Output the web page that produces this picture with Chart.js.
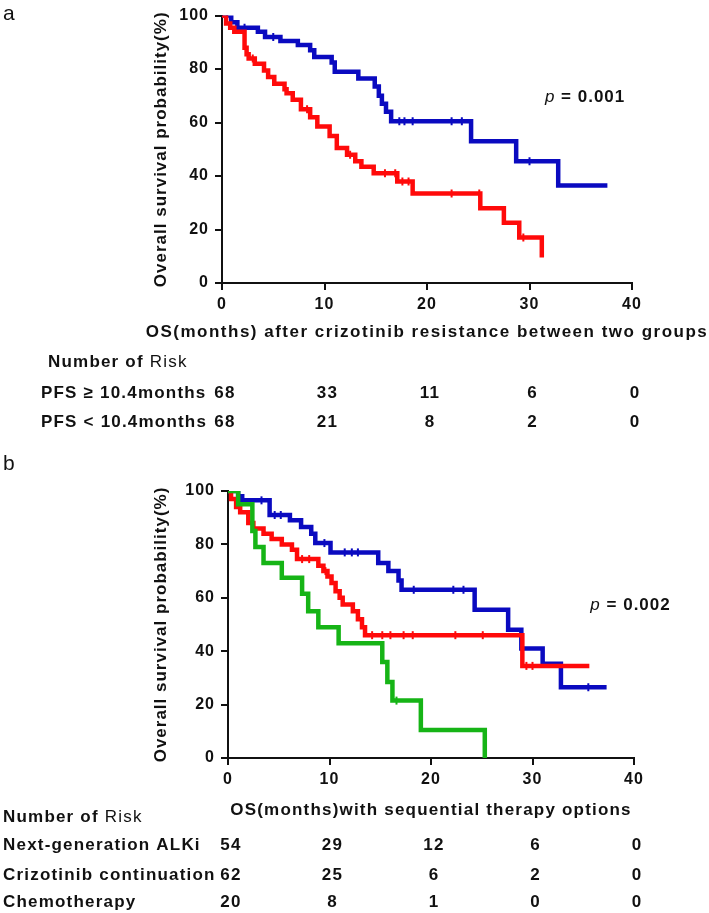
<!DOCTYPE html>
<html>
<head>
<meta charset="utf-8">
<title>Overall survival after crizotinib resistance</title>
<script src="https://cdn.jsdelivr.net/npm/chart.js@4.4.0/dist/chart.umd.min.js"></script>
<style>
  html, body { margin: 0; padding: 0; background: #fff; }
  #page { position: relative; width: 709px; height: 913px; overflow: hidden; }
  .panel { position: absolute; left: 0; width: 709px; }
  #panelA { top: 0; height: 440px; }
  #panelB { top: 440px; height: 473px; }
</style>
</head>
<body>
<div id="page">
  <div class="panel" id="panelA"><canvas id="chartA" width="709" height="440"></canvas></div>
  <div class="panel" id="panelB"><canvas id="chartB" width="709" height="473"></canvas></div>
</div>
<script>
// Kaplan-Meier curves, values (months, survival %)
const riskTimes = [0, 10, 20, 30, 40];

// Panel a: PFS >= 10.4 months vs PFS < 10.4 months
const aHighTimes = [0, 0.9, 1.5, 3.5, 4.2, 5.7, 7.4, 8.6, 9.0, 10.7, 11.0, 13.3, 14.9, 15.3, 15.6, 16.0, 16.5, 24.3, 28.7, 32.8, 37.6];
const aHighSurv = [100, 97.5, 95.5, 94, 92, 90.5, 89, 87, 84.5, 82.5, 79, 76.5, 73.5, 70, 67, 64, 60.5, 53, 45.5, 36.5, 36.5];
const aHighCensor = [0.5, 2.2, 5.0, 17.3, 17.8, 18.6, 22.4, 23.4, 30.0];

const aLowTimes = [0, 0.4, 0.8, 1.2, 2.2, 2.4, 2.6, 3.2, 4.1, 4.5, 5.1, 6.1, 6.3, 6.9, 7.7, 8.6, 9.3, 10.5, 11.2, 12.2, 13.0, 13.6, 14.8, 17.1, 18.6, 25.2, 27.5, 29.0, 31.2];
const aLowSurv = [100, 97, 95.5, 94, 88, 85.5, 84, 82, 79.5, 77, 74.5, 72.5, 71, 68.5, 65, 62, 58.5, 55, 50.5, 48, 45.5, 43.5, 41, 38, 33.5, 28, 22.5, 17, 9.5];
const aLowCensor = [3.0, 8.3, 12.5, 15.9, 16.9, 17.6, 18.2, 22.4, 25.1, 29.4];

const aRiskHigh = [68, 33, 11, 6, 0];
const aRiskLow = [68, 21, 8, 2, 0];

// Panel b: sequential therapy options
const bAlkTimes = [0, 1.0, 1.4, 4.1, 6.1, 7.2, 8.2, 8.6, 10.1, 14.8, 15.8, 16.8, 17.1, 24.3, 27.6, 28.9, 31.0, 32.8, 37.3];
const bAlkSurv = [100, 98, 96.5, 91, 89, 86.5, 84, 80.5, 77, 73, 70, 66.5, 63, 55.5, 48, 41, 35.3, 26.5, 26.5];
const bAlkCensor = [3.3, 4.6, 5.2, 9.5, 11.5, 12.2, 12.8, 18.3, 22.2, 23.2, 35.5];

const bCrizTimes = [0, 0.3, 0.8, 1.2, 2.0, 2.5, 3.5, 4.3, 5.3, 6.3, 6.8, 8.9, 9.4, 9.8, 10.2, 10.6, 11.0, 11.3, 12.3, 12.8, 13.2, 13.5, 29.0, 35.6];
const bCrizSurv = [100, 97, 94, 92, 88, 86, 84, 82, 80, 78, 74.5, 72, 70, 68, 65.5, 62.5, 60, 57.5, 55, 52, 49, 46, 34.5, 34.5];
const bCrizCensor = [7.3, 8.0, 9.6, 14.2, 15.2, 16.0, 17.3, 18.2, 22.4, 25.1, 29.4, 30.0];

const bChemoTimes = [0, 1.0, 2.4, 2.7, 3.5, 5.3, 7.3, 7.9, 8.9, 10.9, 15.2, 15.7, 16.2, 19.0, 25.3];
const bChemoSurv = [100, 95, 85, 79, 73, 67.5, 61.5, 55, 49, 43, 36, 28.5, 21.5, 10.5, 0];
const bChemoCensor = [16.6];

const bRiskAlk = [54, 29, 12, 6, 0];
const bRiskCriz = [62, 25, 6, 2, 0];
const bRiskChemo = [20, 8, 1, 0, 0];

const FONT = '"Liberation Sans", Arial, Helvetica, sans-serif';
const INK = '#111111';
const BLUE = '#0a0ac0';
const RED = '#ff0a0a';
const GREEN = '#16b416';

function kmPoints(times, surv) {
    return times.map(function (t, i) { return { x: t, y: surv[i] }; });
}

// survival value of the step curve at time t
function survAt(times, surv, t) {
    let s = surv[0];
    for (let i = 0; i < times.length; i++) {
        if (times[i] <= t) s = surv[i];
    }
    return s;
}

function censorPoints(times, surv, marks) {
    return marks.map(function (t) { return { x: t, y: survAt(times, surv, t) }; });
}

function curve(times, surv, color, order) {
    return {
        data: kmPoints(times, surv),
        borderColor: color,
        borderWidth: 4.5,
        stepped: 'before',
        pointRadius: 0,
        fill: false,
        tension: 0,
        order: order
    };
}

function censors(times, surv, marks, color, order) {
    return {
        data: censorPoints(times, surv, marks),
        showLine: false,
        pointStyle: 'line',
        rotation: 90,
        pointRadius: 4,
        pointBorderWidth: 2,
        pointBorderColor: color,
        pointBackgroundColor: color,
        order: order
    };
}

// draws panel letter, x title, p value and the number-at-risk table
function panelPlugin(cfg) {
    return {
        id: 'panelText',
        beforeLayout: function (chart) { chart.ctx.letterSpacing = '1px'; },
        beforeDraw: function (chart) { chart.ctx.letterSpacing = '1px'; },
        afterDraw: function (chart) {
            const ctx = chart.ctx;
            const xs = chart.scales.x;
            const ys = chart.scales.y;
            ctx.save();
            ctx.fillStyle = INK;
            ctx.textBaseline = 'middle';
            ctx.textAlign = 'left';

            ctx.letterSpacing = '0px';
            ctx.font = '21px ' + FONT;
            ctx.fillText(cfg.letter, 3, cfg.letterY);

            // x axis title, centred under the axis
            ctx.letterSpacing = cfg.titleSpacing;
            ctx.font = 'bold 17px ' + FONT;
            ctx.textAlign = 'center';
            ctx.fillText(cfg.xTitle, (xs.left + xs.right) / 2, cfg.titleY);
            ctx.textAlign = 'left';

            // p value
            ctx.letterSpacing = '1px';
            const px = xs.getPixelForValue(cfg.pAt[0]);
            const py = ys.getPixelForValue(cfg.pAt[1]);
            ctx.font = 'italic 17px ' + FONT;
            ctx.fillText('p', px, py);
            const pw = ctx.measureText('p').width;
            ctx.font = 'bold 17px ' + FONT;
            ctx.fillText(' = ' + cfg.pValue, px + pw, py);

            // Number of Risk header
            ctx.letterSpacing = '1.2px';
            ctx.font = 'bold 17px ' + FONT;
            ctx.fillText('Number of ', cfg.headX, cfg.headY);
            const hw = ctx.measureText('Number of ').width;
            ctx.font = '17px ' + FONT;
            ctx.fillText('Risk', cfg.headX + hw, cfg.headY);

            // rows
            ctx.font = 'bold 17px ' + FONT;
            cfg.rows.forEach(function (row) {
                ctx.textAlign = 'left';
                ctx.fillText(row.label, cfg.rowX, row.y);
                ctx.textAlign = 'center';
                row.values.forEach(function (v, i) {
                    ctx.fillText(String(v), xs.getPixelForValue(riskTimes[i]) + 3, row.y);
                });
            });
            ctx.restore();
        }
    };
}

function makeOptions(cfg) {
    return {
        responsive: false,
        animation: false,
        events: [],
        layout: { padding: { left: cfg.padLeft, right: cfg.padRight, top: cfg.padTop, bottom: cfg.padBottom } },
        plugins: {
            legend: { display: false },
            tooltip: { enabled: false }
        },
        scales: {
            x: {
                type: 'linear',
                min: 0,
                max: 40,
                ticks: { stepSize: 10, color: INK, padding: 5, maxRotation: 0, font: { family: FONT, size: 16, weight: 'bold' } },
                grid: { display: true, drawOnChartArea: false, drawTicks: true, tickLength: 7, color: INK, lineWidth: 2 },
                border: { display: true, color: INK, width: 2 },
                title: { display: false },
                afterFit: function (s) { s.height = cfg.xHeight; }
            },
            y: {
                type: 'linear',
                min: 0,
                max: 100,
                ticks: { stepSize: 20, color: INK, padding: 6, font: { family: FONT, size: 16, weight: 'bold' } },
                grid: { display: true, drawOnChartArea: false, drawTicks: true, tickLength: 7, color: INK, lineWidth: 2 },
                border: { display: true, color: INK, width: 2 },
                title: { display: true, text: 'Overall survival probability(%)', color: INK, padding: 0, font: { family: FONT, size: 17, weight: 'bold' } },
                afterFit: function (s) { s.width = cfg.yWidth; }
            }
        }
    };
}

// Panel a
new Chart(document.getElementById('chartA'), {
    type: 'line',
    data: {
        datasets: [
            curve(aLowTimes, aLowSurv, RED, 1),
            censors(aLowTimes, aLowSurv, aLowCensor, RED, 1),
            curve(aHighTimes, aHighSurv, BLUE, 2),
            censors(aHighTimes, aHighSurv, aHighCensor, BLUE, 2)
        ]
    },
    options: makeOptions({
        padLeft: 151, padRight: 77, padTop: 10, padBottom: 98,
        yWidth: 71, xHeight: 59
    }),
    plugins: [panelPlugin({
        letter: 'a', letterY: 14,
        xTitle: 'OS(months) after crizotinib resistance between two groups',
        titleY: 332, titleSpacing: '1.5px',
        pAt: [31.5, 69.5], pValue: '0.001',
        headX: 48, headY: 362, rowX: 41,
        rows: [
            { label: 'PFS \u2265 10.4months', values: aRiskHigh, y: 393 },
            { label: 'PFS < 10.4months', values: aRiskLow, y: 422 }
        ]
    })]
});

// Panel b
new Chart(document.getElementById('chartB'), {
    type: 'line',
    data: {
        datasets: [
            curve(bChemoTimes, bChemoSurv, GREEN, 1),
            censors(bChemoTimes, bChemoSurv, bChemoCensor, GREEN, 1),
            curve(bCrizTimes, bCrizSurv, RED, 2),
            censors(bCrizTimes, bCrizSurv, bCrizCensor, RED, 2),
            curve(bAlkTimes, bAlkSurv, BLUE, 3),
            censors(bAlkTimes, bAlkSurv, bAlkCensor, BLUE, 3)
        ]
    },
    options: makeOptions({
        padLeft: 151, padRight: 75, padTop: 51, padBottom: 93,
        yWidth: 77, xHeight: 62
    }),
    plugins: [panelPlugin({
        letter: 'b', letterY: 24,
        xTitle: 'OS(months)with sequential therapy options',
        titleY: 370, titleSpacing: '1.2px',
        pAt: [35.7, 57.3], pValue: '0.002',
        headX: 3, headY: 377, rowX: 3,
        rows: [
            { label: 'Next-generation ALKi', values: bRiskAlk, y: 405 },
            { label: 'Crizotinib continuation', values: bRiskCriz, y: 435 },
            { label: 'Chemotherapy', values: bRiskChemo, y: 462 }
        ]
    })]
});
</script>
</body>
</html>
